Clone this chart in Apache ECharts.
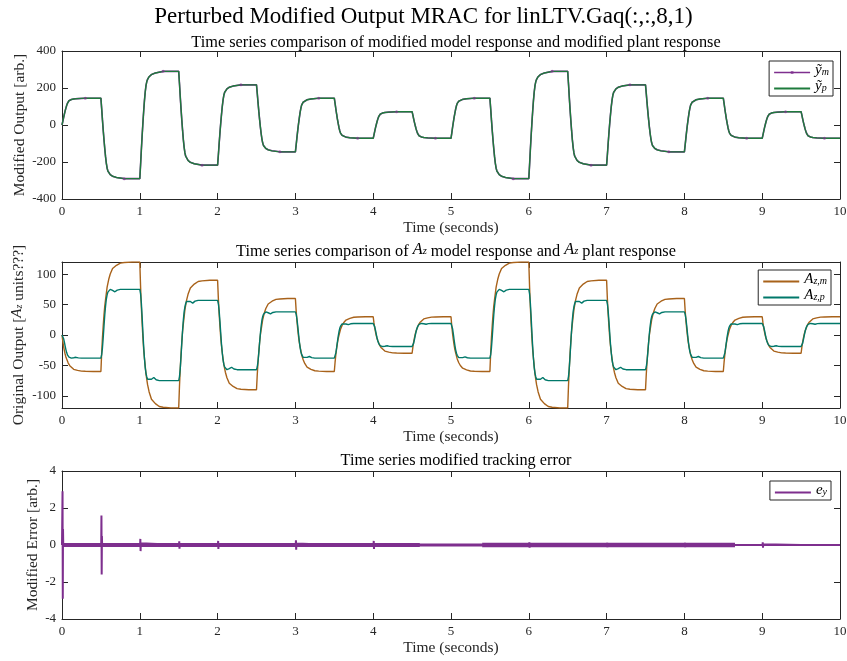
<!DOCTYPE html>
<html><head><meta charset="utf-8">
<script src="https://cdn.jsdelivr.net/npm/echarts@6/dist/echarts.min.js"></script>
<style>html,body{margin:0;padding:0;background:#fff}#c{width:847px;height:661px}</style>
</head><body><div id="c"></div>
<script>
// ---- data ----
const segStart = [0,0.5,1,1.5,2,2.5,3,3.5,4,4.5,5,5.5,6,6.5,7,7.5,8,8.5,9,9.5];
// plateau level reached in each 0.5 s segment
const modLevels = [145,-290,290,-217,217,-145,145,-72,72,-72,145,-290,290,-217,217,-145,145,-72,72,-72];
const azmLevels = [-60,120,-120,90,-90,60,-60,30,-30,30,-60,120,-120,90,-90,60,-60,30,-30,30];
const azpLevels = [-38,75,-75,57,-57,38,-38,19,-19,19,-38,75,-75,57,-57,38,-38,19,-19,19];
// shape of one transition (time after switch, fraction of the step done)
const modShapeT = [0,0.01,0.02,0.03,0.04,0.05,0.06,0.07,0.08,0.09,0.1,0.12,0.15,0.2,0.3];
const modShapeF = [0,0.13,0.27,0.4,0.52,0.63,0.73,0.81,0.87,0.905,0.925,0.95,0.97,0.985,1];
const azmShapeT = [0,0.01,0.02,0.03,0.04,0.05,0.06,0.08,0.1,0.12,0.15,0.2,0.25,0.3,0.4];
const azmShapeF = [0,0.17,0.31,0.42,0.52,0.6,0.66,0.77,0.84,0.89,0.94,0.97,0.99,0.995,1];
const azpShapeT = [0,0.01,0.02,0.03,0.04,0.05,0.06,0.07,0.08,0.09,0.1,0.12,0.15,0.18,0.21,0.25];
const azpShapeF = [0,0.05,0.15,0.3,0.47,0.63,0.76,0.86,0.92,0.96,0.985,1.0,0.985,0.965,0.99,1];
// tracking-error spikes (time, amplitude) and band segments
const spikeT = [0,0.5,1,1.5,2,2.5,3,3.5,4,4.5,5,5.5,6,6.5,7,7.5,8,8.5,9,9.5];
const spikeA = [2.9,1.6,0.33,0.2,0.22,0.08,0.25,0.08,0.22,0.06,0.1,0.06,0.15,0.05,0.12,0.05,0.12,0.04,0.15,0.04];
const spikeShapeDT = [0.004,0.007,0.01,0.013,0.016];
const spikeShapeF = [0,1,-1,0.3,0];
const bandT = [0,4.6,5.4,8.65,10];

// ---- build series from the arrays ----
function buildSteps(levels, shT, shF){
  const out = []; let prev = 0;
  levels.forEach((L,k)=>{
    shT.forEach((dt,i)=>{ out.push([segStart[k]+dt, prev + (L-prev)*shF[i]]); });
    prev = L;
  });
  out.push([10, prev]);
  return out;
}
const modData = buildSteps(modLevels, modShapeT, modShapeF);
const azmData = buildSteps(azmLevels, azmShapeT, azmShapeF);
const azpData = buildSteps(azpLevels, azpShapeT, azpShapeF);
const ymMarks = modData.filter(p => Math.abs((p[0]*1000)%500 - 300) < 1e-6);
const errData = [[0,0]];
spikeT.forEach((t,k)=>{ spikeShapeDT.forEach((dt,i)=>errData.push([t+dt, spikeA[k]*spikeShapeF[i]])); });
errData.push([10,0]);

const F = 'Liberation Serif';
const AX = '#262626';
const C_YM = '#7E2F8E', C_YP = '#1E7B3C', C_AZM = '#A8621A', C_AZP = '#00786A', C_EY = '#7E2F8E';

const grids = [
  {left:62, top:51, width:778, height:148, outerBoundsMode:'none', containLabel:false},
  {left:62, top:262, width:778, height:146, outerBoundsMode:'none', containLabel:false},
  {left:62, top:471, width:778, height:148, outerBoundsMode:'none', containLabel:false}
];
const yRanges = [
  {min:-400,max:400,interval:200, name:'Modified Output [arb.]', gap:34},
  {min:-120,max:120, custom:[-100,-50,0,50,100], name:'Original Output [{i|A}{sub|z} units???]', gap:34},
  {min:-4,max:4,interval:2, name:'Modified Error [arb.]', gap:21}
];
const xAxes = [], yAxes = [];
const richName = {
  i:{fontFamily:F, fontStyle:'italic', fontSize:15, color:AX, padding:[0,0,3,0]},
  sub:{fontFamily:F, fontStyle:'italic', fontSize:10, color:AX}
};
grids.forEach((g,gi)=>{
  xAxes.push({gridIndex:gi, type:'value', min:0, max:10, interval:1, position:'bottom',
    name:'Time (seconds)', nameLocation:'middle', nameGap:21, nameMoveOverlap:false,
    nameTextStyle:{fontFamily:F, fontSize:15.5, color:AX},
    axisLine:{show:true, onZero:false, lineStyle:{color:AX, width:1}},
    axisTick:{inside:true, length:6, lineStyle:{color:AX}},
    axisLabel:{fontFamily:F, fontSize:13, color:AX, margin:6},
    splitLine:{show:false}});
  xAxes.push({gridIndex:gi, type:'value', min:0, max:10, interval:1, position:'top',
    axisLine:{show:true, onZero:false, lineStyle:{color:AX, width:1}},
    axisTick:{inside:true, length:6, lineStyle:{color:AX}},
    axisLabel:{show:false}, splitLine:{show:false}});
  const r = yRanges[gi];
  const yl = {gridIndex:gi, type:'value', min:r.min, max:r.max, position:'left',
    name:r.name, nameLocation:'middle', nameGap:r.gap, nameMoveOverlap:false,
    nameTextStyle:{fontFamily:F, fontSize:15.5, color:AX, rich:richName},
    axisLine:{show:true, onZero:false, lineStyle:{color:AX, width:1}},
    axisTick:{inside:true, length:6, lineStyle:{color:AX}},
    axisLabel:{fontFamily:F, fontSize:13, color:AX, margin:6},
    splitLine:{show:false}};
  const yr = {gridIndex:gi, type:'value', min:r.min, max:r.max, position:'right',
    axisLine:{show:true, onZero:false, lineStyle:{color:AX, width:1}},
    axisTick:{inside:true, length:6, lineStyle:{color:AX}},
    axisLabel:{show:false}, splitLine:{show:false}};
  if (r.custom){
    yl.axisTick.customValues = r.custom; yl.axisLabel.customValues = r.custom;
    yr.axisTick.customValues = r.custom;
  } else { yl.interval = r.interval; yr.interval = r.interval; }
  yAxes.push(yl); yAxes.push(yr);
});

const legRich = {
  v:{fontFamily:F, fontStyle:'italic', fontSize:15, color:'#000', padding:[0,0,4,0]},
  s:{fontFamily:F, fontStyle:'italic', fontSize:10, color:'#000'}
};
const legLabels = {ym:'{v|ỹ}{s|m}', yp:'{v|ỹ}{s|p}', azm:'{v|A}{s|z,m}', azp:'{v|A}{s|z,p}', ey:'{v|e}{s|y}'};
const lineIcon = 'path://M0,9 H40 V11 H0 Z';
const dotIcon = 'path://M0,9.3 H40 V10.7 H0 Z M18.5,8.5 H21.5 V11.5 H18.5 Z';
function legend(items, right, top){
  return {orient:'vertical', right:right, top:top, itemWidth:36, itemHeight:8, itemGap:1,
    padding:[2,4,2,5], borderColor:AX, borderWidth:1, backgroundColor:'#fff',
    data:items, formatter:n=>legLabels[n], textStyle:{rich:legRich, fontFamily:F}};
}

const option = {
  animation:false,
  backgroundColor:'#fff',
  title:[
    {text:'Perturbed Modified Output MRAC for linLTV.Gaq(:,:,8,1)', left:'center', top:0,
     textStyle:{fontFamily:F, fontWeight:'normal', fontSize:23, color:'#000'}},
    {text:'Time series comparison of modified model response and modified plant response', left:451, textAlign:'center', top:30,
     textStyle:{fontFamily:F, fontWeight:'normal', fontSize:16.3, color:'#000'}},
    {text:'Time series comparison of {i|A}{sub|z} model response and {i|A}{sub|z} plant response', left:451, textAlign:'center', top:237,
     textStyle:{fontFamily:F, fontWeight:'normal', fontSize:16.3, color:'#000',
       rich:{i:{fontFamily:F, fontStyle:'italic', fontSize:16.3, color:'#000', padding:[0,0,3,0]}, sub:{fontFamily:F, fontStyle:'italic', fontSize:10.5, color:'#000'}}}},
    {text:'Time series modified tracking error', left:451, textAlign:'center', top:448,
     textStyle:{fontFamily:F, fontWeight:'normal', fontSize:16.3, color:'#000'}}
  ],
  legend:[
    legend([{name:'ym', icon:dotIcon},{name:'yp', icon:lineIcon}], 14, 61),
    legend([{name:'azm', icon:lineIcon},{name:'azp', icon:lineIcon}], 16, 270),
    legend([{name:'ey', icon:lineIcon}], 16, 481)
  ],
  grid:grids,
  xAxis:xAxes,
  yAxis:yAxes,
  series:[
    {name:'ym', type:'line', xAxisIndex:0, yAxisIndex:0, data:modData, showSymbol:false, symbol:'none',
     lineStyle:{color:C_YM, width:1.6}, itemStyle:{color:C_YM}},
    {name:'yp', type:'line', xAxisIndex:0, yAxisIndex:0, data:modData, showSymbol:false, symbol:'none',
     lineStyle:{color:C_YP, width:1.4}, itemStyle:{color:C_YP}},
    {name:'ymMarks', type:'scatter', xAxisIndex:0, yAxisIndex:0, data:ymMarks, symbolSize:3,
     itemStyle:{color:C_YM, opacity:0.6}, z:5},
    {name:'azm', type:'line', xAxisIndex:2, yAxisIndex:2, data:azmData, showSymbol:false, symbol:'none',
     lineStyle:{color:C_AZM, width:1.4}, itemStyle:{color:C_AZM}},
    {name:'azp', type:'line', xAxisIndex:2, yAxisIndex:2, data:azpData, showSymbol:false, symbol:'none',
     lineStyle:{color:C_AZP, width:1.4}, itemStyle:{color:C_AZP}},
    {name:'band0', type:'line', xAxisIndex:4, yAxisIndex:4, data:[[bandT[0],0],[bandT[1],0]], symbol:'none', lineStyle:{color:C_EY, width:4.2}},
    {name:'band1', type:'line', xAxisIndex:4, yAxisIndex:4, data:[[bandT[1],0],[bandT[2],0]], symbol:'none', lineStyle:{color:C_EY, width:3}},
    {name:'band2', type:'line', xAxisIndex:4, yAxisIndex:4, data:[[bandT[2],0],[bandT[3],0]], symbol:'none', lineStyle:{color:C_EY, width:4.5}},
    {name:'band3', type:'line', xAxisIndex:4, yAxisIndex:4, data:[[bandT[3],0],[bandT[4],0]], symbol:'none', lineStyle:{color:C_EY, width:2}},
    {name:'ey', type:'line', xAxisIndex:4, yAxisIndex:4, data:errData, showSymbol:false, symbol:'none',
     lineStyle:{color:C_EY, width:2}, itemStyle:{color:C_EY}}
  ]
};
const chart = echarts.init(document.getElementById('c'), null, {renderer:'canvas'});
chart.setOption(option);
</script></body></html>
